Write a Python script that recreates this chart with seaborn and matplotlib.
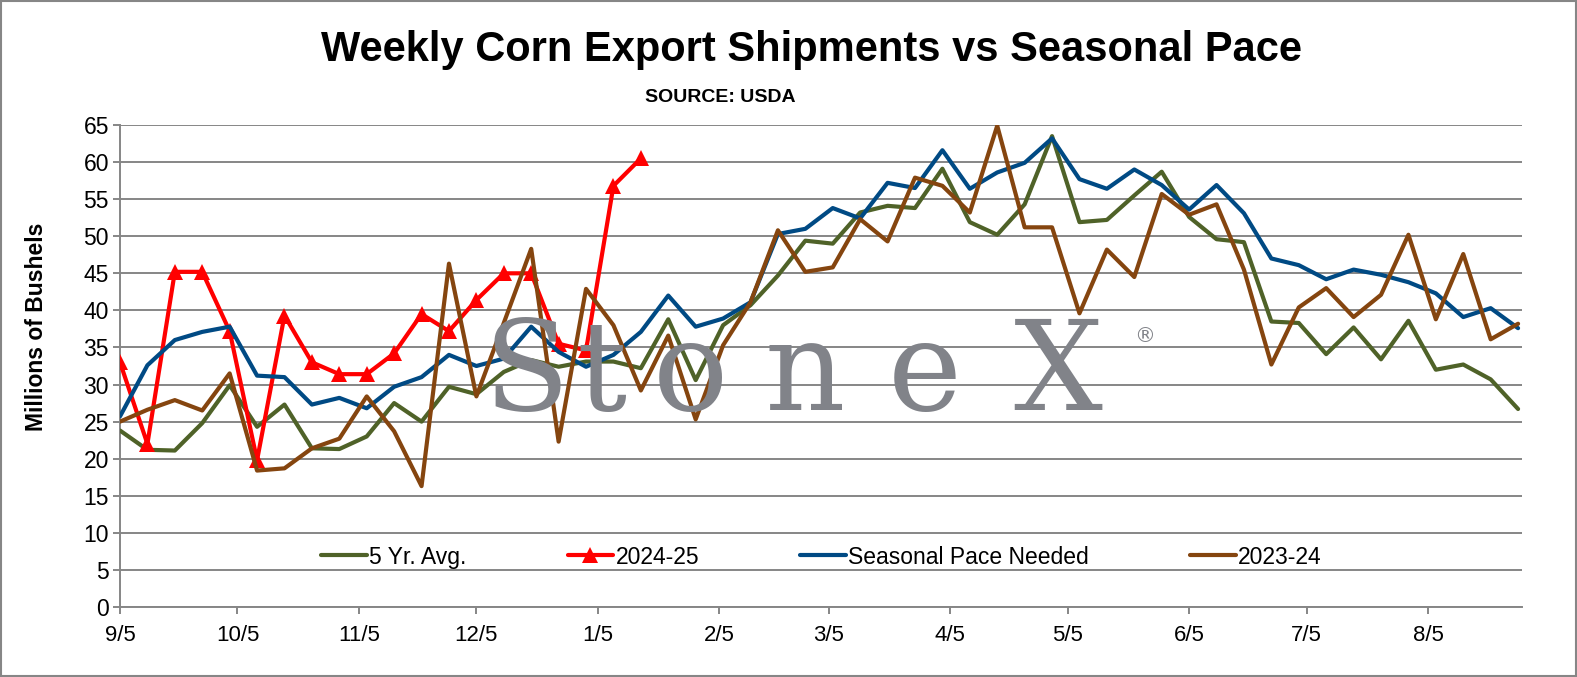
import matplotlib
matplotlib.use("Agg")
import matplotlib.pyplot as plt
import matplotlib.dates as mdates
from matplotlib.ticker import FuncFormatter
from matplotlib.patches import Rectangle
import seaborn as sns
import pandas as pd

# ---------------- data ----------------
start_date = "2024-09-05"
n_weeks = 52

avg_5yr = [23.8, 21.2, 21.1, 24.8, 29.9, 24.3, 27.3, 21.4, 21.3, 23.0,
           27.5, 25.0, 29.7, 28.7, 31.7, 33.3, 32.4, 33.1, 33.1, 32.2,
           38.8, 30.6, 38.0, 40.7, 44.7, 49.4, 49.0, 53.2, 54.1, 53.8,
           59.1, 51.9, 50.2, 54.3, 63.5, 51.9, 52.2, 55.5, 58.7, 52.6,
           49.6, 49.2, 38.5, 38.3, 34.1, 37.7, 33.4, 38.6, 32.0, 32.7,
           30.7, 26.7]

cur_2425 = [33.0, 22.0, 45.2, 45.2, 37.2, 19.8, 39.3, 33.0, 31.4, 31.4,
            34.2, 39.5, 37.2, 41.4, 45.0, 45.0, 35.5, 34.6, 56.8, 60.5]

seasonal_pace = [25.7, 32.6, 36.0, 37.1, 37.8, 31.2, 31.0, 27.3, 28.2, 26.8,
                 29.7, 31.0, 34.0, 32.5, 33.5, 37.8, 34.4, 32.4, 34.0, 37.1,
                 42.0, 37.8, 38.9, 41.1, 50.3, 51.0, 53.8, 52.4, 57.2, 56.5,
                 61.6, 56.4, 58.6, 59.9, 63.2, 57.7, 56.4, 59.0, 56.9, 53.6,
                 56.9, 53.1, 47.0, 46.1, 44.2, 45.5, 44.8, 43.8, 42.3, 39.1,
                 40.3, 37.6]

prev_2324 = [25.0, 26.6, 27.9, 26.5, 31.5, 18.4, 18.7, 21.4, 22.7, 28.4,
             23.7, 16.3, 46.3, 28.4, 38.3, 48.3, 22.3, 42.9, 38.0, 29.2,
             36.6, 25.3, 35.3, 41.1, 50.8, 45.2, 45.8, 52.3, 49.3, 57.9,
             56.8, 53.2, 64.9, 51.2, 51.2, 39.6, 48.2, 44.5, 55.7, 52.9,
             54.3, 45.5, 32.7, 40.4, 43.0, 39.1, 42.1, 50.2, 38.8, 47.6,
             36.1, 38.2]

series_names = ["5 Yr. Avg.", "2024-25", "Seasonal Pace Needed", "2023-24"]
y_ticks = list(range(0, 70, 5))

title = "Weekly Corn Export Shipments vs Seasonal Pace"
subtitle = "SOURCE: USDA"
y_label = "Millions of Bushels"

# ---------------- styling ----------------
sns.set_style("white")
plt.rcParams['font.family'] = ['Liberation Sans', 'DejaVu Sans']
plt.rcParams['text.color'] = 'black'
plt.rcParams['xtick.labelcolor'] = 'black'
plt.rcParams['ytick.labelcolor'] = 'black'

GRID = "#868686"
colors = {"5 Yr. Avg.": "#4F6228", "2024-25": "#FF0000",
          "Seasonal Pace Needed": "#004A84", "2023-24": "#85450F"}

dates = pd.date_range(start_date, periods=n_weeks, freq="7D")

fig = plt.figure(figsize=(15.77, 6.77), dpi=100)
W, H = 1577.0, 677.0
ax = fig.add_axes([120 / W, 70 / H, 1402 / W, 482 / H])

# watermark (logo text) behind grid
wm_color = "#818389"
wm_letters = ["S", "t", "o", "n", "e", "X"]
wm_centers = [526, 602, 690, 805, 925, 1058]
for ch, cx in zip(wm_letters, wm_centers):
    fig.text(cx / W, 1 - 410 / H, ch, ha="center", va="baseline",
             fontsize=90, color=wm_color, family="DejaVu Serif", zorder=0)
fig.text(1145 / W, 1 - 336 / H, "®", ha="center", va="center",
         fontsize=15, color=wm_color, family="DejaVu Sans", zorder=0)
ax.patch.set_alpha(0)

series_data = [avg_5yr, cur_2425, seasonal_pace, prev_2324]
for name, vals in zip(series_names, series_data):
    kw = dict(color=colors[name], linewidth=3.0, label=name, zorder=3)
    if name == "2024-25":
        kw.update(marker="^", markersize=11, markeredgewidth=0)
    sns.lineplot(x=dates[:len(vals)], y=vals, ax=ax, **kw)

ax.set_ylim(0, 65)
ax.set_yticks(y_ticks)
ax.set_xlim(dates[0], dates[-1] + pd.Timedelta(days=1))
ax.xaxis.set_major_locator(mdates.MonthLocator(bymonthday=5))
ax.xaxis.set_major_formatter(FuncFormatter(
    lambda v, p: f"{mdates.num2date(v).month}/{mdates.num2date(v).day}"))

ax.yaxis.grid(True, color=GRID, linewidth=1.4)
ax.xaxis.grid(False)
ax.set_axisbelow(True)
for s in ["top", "right"]:
    ax.spines[s].set_visible(False)
for s in ["left", "bottom"]:
    ax.spines[s].set_color(GRID)
    ax.spines[s].set_linewidth(1.4)
ax.tick_params(axis="y", direction="out", length=5, width=1.4, color=GRID,
               labelsize=16.5, pad=3, left=True, labelcolor="black")
ax.tick_params(axis="x", direction="out", length=5, width=1.4, color=GRID,
               labelsize=16, pad=8, bottom=True, labelcolor="black")
ax.set_xlabel("")
ax.set_ylabel("")

leg = ax.legend(loc="center left", bbox_to_anchor=(0.1435, 0.1037), ncol=4,
                frameon=False, fontsize=16.5, handlelength=2.0,
                handletextpad=0.1, columnspacing=4.4, borderpad=0,
                borderaxespad=0, numpoints=1)
for t in leg.get_texts():
    t.set_color("black")

fig.text(811 / W, 1 - 50 / H, title, ha="center", va="center",
         fontsize=30, fontweight="bold", color="black")
fig.text(720 / W, 1 - 98 / H, subtitle, ha="center", va="center",
         fontsize=14, fontweight="bold", color="black")
fig.text(37 / W, 1 - 327 / H, y_label, ha="center", va="center",
         rotation=90, fontsize=16.5, fontweight="bold", color="black")

fig.patches.append(Rectangle((1 / W, 1 / H), 1 - 2 / W, 1 - 2 / H,
                             transform=fig.transFigure, fill=False,
                             edgecolor=GRID, linewidth=1.5))

fig.savefig("out.png", dpi=100)
